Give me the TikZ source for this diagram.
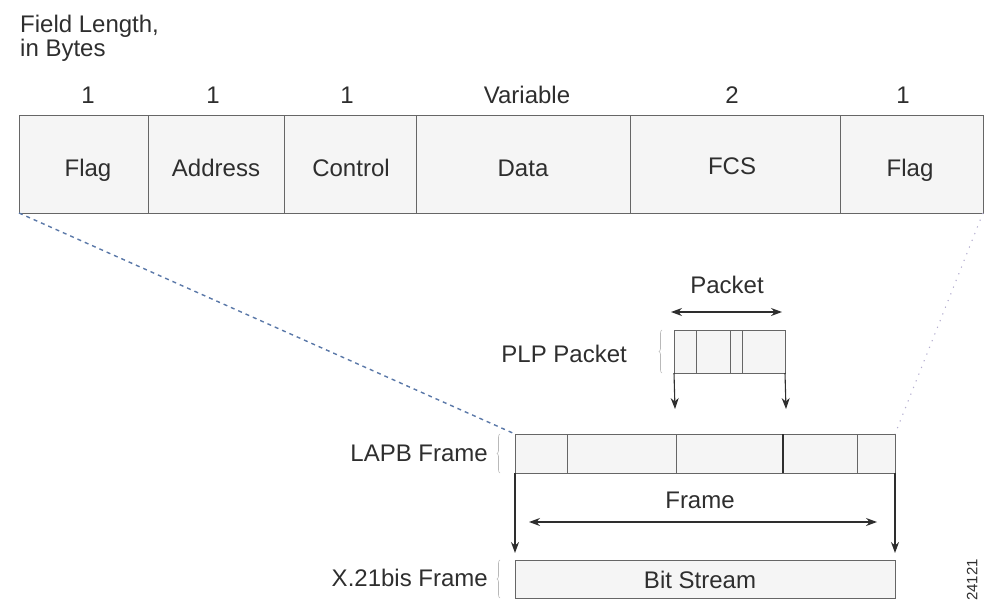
\documentclass[tikz,border=0pt]{standalone}
\usepackage{fontspec}
\setmainfont{Liberation Sans}
\usetikzlibrary{arrows.meta,decorations.pathreplacing}
\definecolor{ink}{HTML}{2E2E2E}
\definecolor{rule}{HTML}{666666}
\definecolor{cellfill}{HTML}{F5F5F5}
\definecolor{dashblue}{HTML}{5A78A8}
\definecolor{faint}{HTML}{B4AED0}
\begin{document}
\begin{tikzpicture}[x=1pt,y=-1pt,
  every node/.style={text=ink,font=\fontsize{24}{25}\selectfont},
  cell/.style={draw=rule,fill=cellfill,line width=1pt,inner sep=0pt,outer sep=0pt,anchor=north west},
  lbl/.style={inner sep=0pt,anchor=base},
  rlbl/.style={inner sep=0pt,anchor=base east},
  arr/.style={draw=ink,line width=1.1pt,-{Stealth[length=11pt,width=8pt]}},
  darr/.style={draw=ink,line width=1.1pt,{Stealth[length=11pt,width=8pt]}-{Stealth[length=11pt,width=8pt]}},
  grp/.style={draw=gray!55,line width=0.6pt,decorate,decoration={brace,amplitude=3pt,mirror}}]
\useasboundingbox (0,0) rectangle (987,615);

% heading
\node[inner sep=0pt,anchor=base west] (head1) at (20,33) {Field Length,};
\node[inner sep=0pt,anchor=base west] (head2) at (20,57) {in Bytes};

% top LAPB frame fields
\node[cell,minimum width=129pt,minimum height=97pt] (f1) at (19,116) {};
\node[cell,minimum width=136pt,minimum height=97pt] (f2) at (148,116) {};
\node[cell,minimum width=132pt,minimum height=97pt] (f3) at (284,116) {};
\node[cell,minimum width=214pt,minimum height=97pt] (f4) at (416,116) {};
\node[cell,minimum width=210pt,minimum height=97pt] (f5) at (630,116) {};
\node[cell,minimum width=143pt,minimum height=97pt] (f6) at (840,116) {};

\node[lbl] (t1) at (88,176) {Flag};
\node[lbl] (t2) at (216,176) {Address};
\node[lbl] (t3) at (351,176) {Control};
\node[lbl] (t4) at (523,176) {Data};
\node[lbl] (t5) at (732,174) {FCS};
\node[lbl] (t6) at (910,176) {Flag};

\node[lbl] (n1) at (88,104) {1};
\node[lbl] (n2) at (213,104) {1};
\node[lbl] (n3) at (347,104) {1};
\node[lbl] (n4) at (527,104) {Variable};
\node[lbl] (n5) at (732,104) {2};
\node[lbl] (n6) at (903,104) {1};

% PLP packet
\node[cell,minimum width=22pt,minimum height=43pt] (p1) at (674,330) {};
\node[cell,minimum width=34pt,minimum height=43pt] (p2) at (696,330) {};
\node[cell,minimum width=12pt,minimum height=43pt] (p3) at (730,330) {};
\node[cell,minimum width=43pt,minimum height=43pt] (p4) at (742,330) {};
\node[rlbl] (plp) at (627,362) {PLP Packet};
\node[lbl] (pkt) at (727,293) {Packet};
\coordinate (pa) at (671,312);
\coordinate (pb) at (782,312);
\draw[darr] (pa) -- (pb);
\coordinate (pd1) at (675,409);
\coordinate (pd2) at (786,409);
\draw[arr] (p1.south west) -- (pd1);
\draw[arr] (p4.south east) -- (pd2);
\draw[grp] (662,330) -- (662,373);

% LAPB frame
\node[cell,minimum width=52pt,minimum height=39pt] (l1) at (515,434) {};
\node[cell,minimum width=109pt,minimum height=39pt] (l2) at (567,434) {};
\node[cell,minimum width=107pt,minimum height=39pt] (l3) at (676,434) {};
\node[cell,minimum width=74pt,minimum height=39pt] (l4) at (783,434) {};
\node[cell,minimum width=38pt,minimum height=39pt] (l5) at (857,434) {};
\draw[ink,line width=1.2pt] (l4.north west) -- (l4.south west);
\node[rlbl] (lapb) at (488,461) {LAPB Frame};
\draw[grp] (500,434) -- (500,473);

% X.21bis frame
\node[cell,minimum width=380pt,minimum height=38pt] (x) at (515,560) {};
\node[lbl] (bits) at (700,588) {Bit Stream};
\node[rlbl] (xlab) at (488,586) {X.21bis Frame};
\draw[grp] (500,560) -- (500,598);

% frame arrows
\node[lbl] (frm) at (700,508) {Frame};
\coordinate (fa) at (529,522);
\coordinate (fb) at (877,522);
\draw[darr] (fa) -- (fb);
\coordinate (fd1) at (515,553);
\coordinate (fd2) at (895,553);
\draw[arr] (l1.south west) -- (fd1);
\draw[arr] (l5.south east) -- (fd2);

% zoom lines
\draw[dashblue,line width=1.4pt,dash pattern=on 4pt off 4pt] (f1.south west) -- (l1.north west);
\draw[faint,line width=1.1pt,dash pattern=on 1.2pt off 6pt] (f6.south east) -- (l5.north east);

% figure number
\node[inner sep=0pt,rotate=90,font=\fontsize{15}{17}\selectfont] (fig) at (972,580) {24121};
\end{tikzpicture}
\end{document}
